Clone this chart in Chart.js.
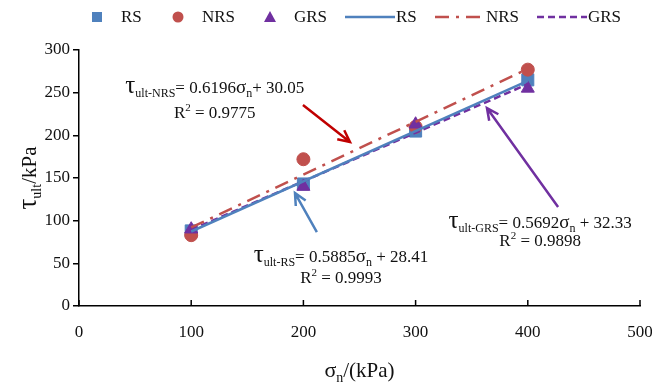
<!DOCTYPE html>
<html>
<head>
<meta charset="utf-8">
<script src="https://cdn.jsdelivr.net/npm/chart.js@4/dist/chart.umd.min.js"></script>
<style>
  html, body { margin: 0; padding: 0; background: #fff; }
  #wrap { width: 652px; height: 386px; }
</style>
</head>
<body>
<div id="wrap"><canvas id="chart"></canvas></div>
<script>
// normal stress levels (kPa)
const sigmaN = [100, 200, 300, 400]
// measured ultimate shear stress (kPa)
const rsValues = [88, 143, 205, 265]
const nrsValues = [83, 172, 210, 277]
const grsValues = [90, 140, 213, 255]
// trend line end points, read from the fitted equations
const fitX = [100, 400]
const rsFit = [87.3, 263.8]
const nrsFit = [92.0, 277.9]
const grsFit = [89.3, 260.0]
const xTicks = [0, 100, 200, 300, 400, 500]
const yTicks = [0, 50, 100, 150, 200, 250, 300]

const SERIF = '"Liberation Serif", "Times New Roman", serif'
const BLUE = '#4F81BD'
const RED = '#C0504D'
const PURPLE = '#7030A0'

const toXY = (xs, ys) => xs.map((x, i) => ({ x: x, y: ys[i] }))

// draw a run of text pieces (sub/superscripts) starting at x, baseline y
function richWidth(ctx, parts) {
  let w = 0
  parts.forEach(p => {
    ctx.font = p.size + 'px ' + SERIF
    w += ctx.measureText(p.t).width
  })
  return w
}
function drawRich(ctx, parts, x, y, align) {
  let w = richWidth(ctx, parts)
  let cx = align === 'center' ? x - w / 2 : x
  ctx.textAlign = 'left'
  ctx.textBaseline = 'alphabetic'
  parts.forEach(p => {
    ctx.font = p.size + 'px ' + SERIF
    ctx.fillText(p.t, cx, y + (p.dy || 0))
    cx += ctx.measureText(p.t).width
  })
}
function arrow(ctx, x1, y1, x2, y2, color) {
  const a = Math.atan2(y2 - y1, x2 - x1)
  const h = 13
  ctx.save()
  ctx.strokeStyle = color
  ctx.lineWidth = 2.5
  ctx.setLineDash([])
  ctx.beginPath()
  ctx.moveTo(x1, y1)
  ctx.lineTo(x2, y2)
  ctx.moveTo(x2 - h * Math.cos(a - 0.45), y2 - h * Math.sin(a - 0.45))
  ctx.lineTo(x2, y2)
  ctx.lineTo(x2 - h * Math.cos(a + 0.45), y2 - h * Math.sin(a + 0.45))
  ctx.stroke()
  ctx.restore()
}

const annotations = [
  { x: 121, y: 250, lines: [
    [{ t: 'τ', size: 25 }, { t: 'ult-NRS', size: 12, dy: 4 }, { t: '= 0.6196', size: 17 }, { t: 'σ', size: 19 }, { t: 'n', size: 12, dy: 4 }, { t: '+ 30.05', size: 17 }],
    [{ t: 'R', size: 17 }, { t: '2', size: 11, dy: -7 }, { t: ' = 0.9775', size: 17 }]
  ], gap: 25 },
  { x: 233.5, y: 51.5, lines: [
    [{ t: 'τ', size: 25 }, { t: 'ult-RS', size: 12, dy: 4 }, { t: '= 0.5885', size: 17 }, { t: 'σ', size: 19 }, { t: 'n', size: 12, dy: 4 }, { t: ' + 28.41', size: 17 }],
    [{ t: 'R', size: 17 }, { t: '2', size: 11, dy: -7 }, { t: ' = 0.9993', size: 17 }]
  ], gap: 21 },
  { x: 411, y: 91.4, lines: [
    [{ t: 'τ', size: 25 }, { t: 'ult-GRS', size: 12, dy: 4 }, { t: '= 0.5692', size: 17 }, { t: 'σ', size: 19 }, { t: 'n', size: 12, dy: 4 }, { t: ' + 32.33', size: 17 }],
    [{ t: 'R', size: 17 }, { t: '2', size: 11, dy: -7 }, { t: ' = 0.9898', size: 17 }]
  ], gap: 18 }
]
const arrows = [
  { from: [199.6, 235.5], to: [241.5, 192.2], color: '#C00000' },
  { from: [212, 86.7], to: [192.5, 132.4], color: BLUE },
  { from: [427, 116], to: [363.6, 232], color: PURPLE }
]

const legendItems = [
  { label: 'RS', kind: 'rect', color: BLUE },
  { label: 'NRS', kind: 'circle', color: RED },
  { label: 'GRS', kind: 'triangle', color: PURPLE },
  { label: 'RS', kind: 'line', color: BLUE, dash: [] },
  { label: 'NRS', kind: 'line', color: RED, dash: [14, 7, 3, 7] },
  { label: 'GRS', kind: 'line', color: PURPLE, dash: [7, 4] }
]
const legendX = [97, 178, 270, 345, 435, 537]

const extras = {
  id: 'extras',
  afterDraw(chart) {
    const ctx = chart.ctx
    const xs = chart.scales.x
    const ys = chart.scales.y
    const area = chart.chartArea
    ctx.save()
    ctx.fillStyle = '#111'

    // x tick marks pointing into the plot
    ctx.strokeStyle = '#000'
    ctx.lineWidth = 1.5
    xTicks.forEach(v => {
      const px = xs.getPixelForValue(v)
      ctx.beginPath()
      ctx.moveTo(px, area.bottom)
      ctx.lineTo(px, area.bottom - 6)
      ctx.stroke()
    })

    // axis titles
    drawRich(ctx, [{ t: 'σ', size: 22 }, { t: 'n', size: 14, dy: 5 }, { t: '/(kPa)', size: 21 }], (area.left + area.right) / 2, 377, 'center')
    ctx.save()
    ctx.translate(36, (area.top + area.bottom) / 2)
    ctx.rotate(-Math.PI / 2)
    ctx.fillStyle = '#111'
    drawRich(ctx, [{ t: 'τ', size: 27, }, { t: 'ult', size: 14, dy: 5 }, { t: '/kPa', size: 21 }], 0, 0, 'center')
    ctx.restore()

    // equations
    annotations.forEach(a => {
      const px = xs.getPixelForValue(a.x)
      const py = ys.getPixelForValue(a.y)
      drawRich(ctx, a.lines[0], px, py, 'center')
      drawRich(ctx, a.lines[1], px, py + a.gap, 'center')
    })
    arrows.forEach(r => {
      arrow(ctx, xs.getPixelForValue(r.from[0]), ys.getPixelForValue(r.from[1]),
        xs.getPixelForValue(r.to[0]), ys.getPixelForValue(r.to[1]), r.color)
    })

    // legend
    const ly = 17
    legendItems.forEach((it, i) => {
      const x = legendX[i]
      ctx.fillStyle = it.color
      ctx.strokeStyle = it.color
      let tx
      if (it.kind === 'rect') {
        ctx.fillRect(x - 5, ly - 5, 10, 10)
        tx = x + 24
      } else if (it.kind === 'circle') {
        ctx.beginPath()
        ctx.arc(x, ly, 5.5, 0, Math.PI * 2)
        ctx.fill()
        tx = x + 24
      } else if (it.kind === 'triangle') {
        ctx.beginPath()
        ctx.moveTo(x, ly - 6)
        ctx.lineTo(x + 6, ly + 5)
        ctx.lineTo(x - 6, ly + 5)
        ctx.closePath()
        ctx.fill()
        tx = x + 24
      } else {
        ctx.lineWidth = 2.5
        ctx.setLineDash(it.dash)
        ctx.beginPath()
        ctx.moveTo(x, ly)
        ctx.lineTo(x + 50, ly)
        ctx.stroke()
        ctx.setLineDash([])
        tx = x + 51
      }
      ctx.fillStyle = '#111'
      ctx.font = '17px ' + SERIF
      ctx.textAlign = 'left'
      ctx.textBaseline = 'middle'
      ctx.fillText(it.label, tx, ly + 1)
    })
    ctx.restore()
  }
}

new Chart(document.getElementById('chart'), {
  type: 'scatter',
  data: {
    datasets: [
      { label: 'RS', data: toXY(sigmaN, rsValues), pointStyle: 'rect', pointRadius: 8.5, backgroundColor: BLUE, borderColor: BLUE, order: 3 },
      { label: 'NRS', data: toXY(sigmaN, nrsValues), pointStyle: 'circle', pointRadius: 6.5, backgroundColor: RED, borderColor: RED, order: 2 },
      { label: 'GRS', data: toXY(sigmaN, grsValues), pointStyle: 'triangle', pointRadius: 7.5, backgroundColor: PURPLE, borderColor: PURPLE, order: 1 },
      { label: 'RS fit', type: 'line', data: toXY(fitX, rsFit), borderColor: BLUE, borderWidth: 2.5, pointRadius: 0, order: 0 },
      { label: 'NRS fit', type: 'line', data: toXY(fitX, nrsFit), borderColor: RED, borderWidth: 2.5, borderDash: [14, 7, 3, 7], pointRadius: 0, order: 0 },
      { label: 'GRS fit', type: 'line', data: toXY(fitX, grsFit), borderColor: PURPLE, borderWidth: 2.5, borderDash: [7, 4], pointRadius: 0, order: 0 }
    ]
  },
  options: {
    responsive: true,
    maintainAspectRatio: false,
    animation: false,
    layout: { padding: { left: 0, top: 50, right: 12, bottom: 0 } },
    plugins: {
      legend: { display: false },
      tooltip: { enabled: false }
    },
    scales: {
      x: {
        type: 'linear',
        min: 0,
        max: 500,
        afterFit: s => { s.height = 80; s.paddingRight = 0; s.paddingLeft = 0 },
        afterBuildTicks: s => { s.ticks = xTicks.map(v => ({ value: v })) },
        border: { display: true, color: '#000', width: 1.5 },
        grid: { display: false },
        ticks: { color: '#111', padding: 8, font: { family: SERIF, size: 17 } }
      },
      y: {
        type: 'linear',
        min: 0,
        max: 300,
        afterFit: s => { s.width = 79 },
        afterBuildTicks: s => { s.ticks = yTicks.map(v => ({ value: v })) },
        border: { display: true, color: '#000', width: 1.5 },
        grid: { drawOnChartArea: false, drawTicks: true, tickLength: 6, color: '#000', lineWidth: 1.5 },
        ticks: { color: '#111', padding: 3, font: { family: SERIF, size: 17 } }
      }
    }
  },
  plugins: [extras]
})
</script>
</body>
</html>
